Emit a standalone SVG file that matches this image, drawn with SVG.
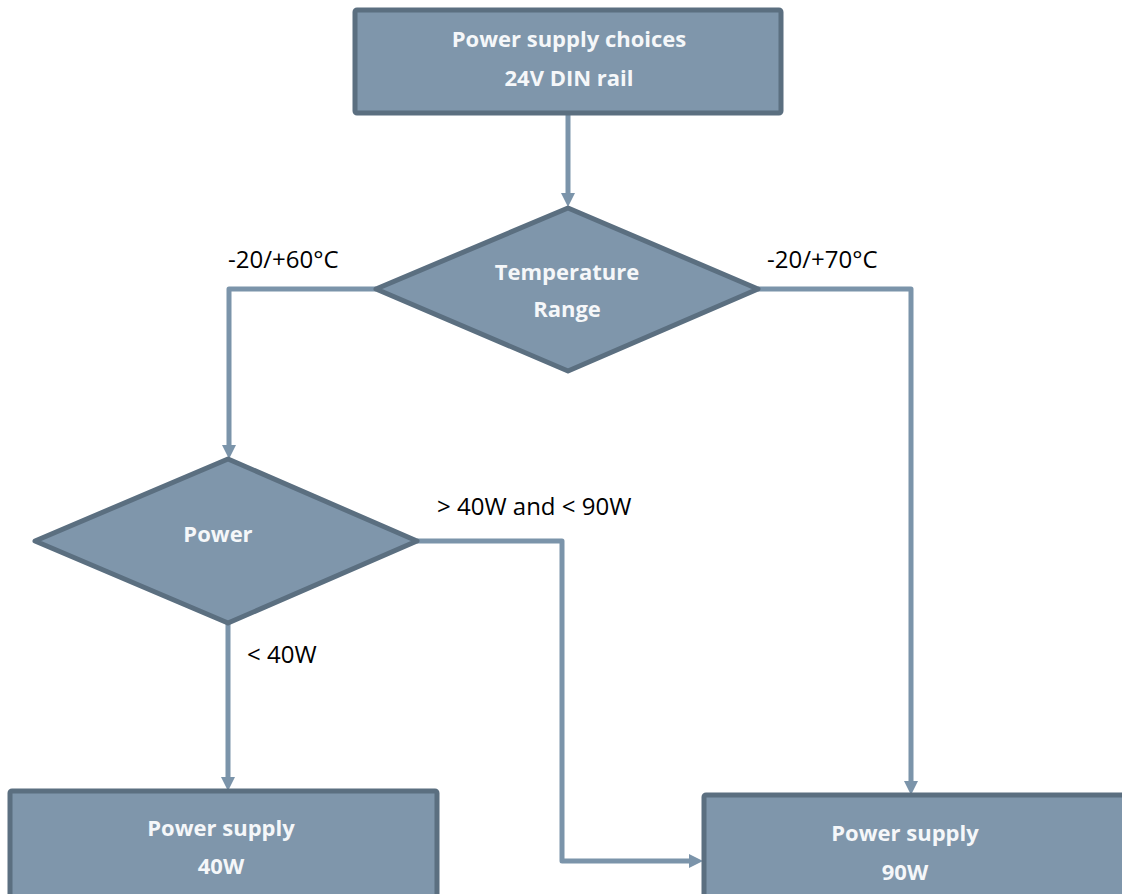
<svg xmlns="http://www.w3.org/2000/svg" width="1122" height="894" viewBox="0 0 1122 894">
  <style>
    .box { fill: #7f96ab; stroke: #5b6f80; stroke-width: 5; stroke-linejoin: round; }
    .ntext { font-family: "Open Sans", "Liberation Sans", sans-serif; font-weight: bold; font-size: 22px; fill: #f5f7f9; text-anchor: middle; }
    .conn { fill: none; stroke: #7b94aa; stroke-width: 5; stroke-linejoin: round; }
    .lbl { font-family: "Open Sans", "Liberation Sans", sans-serif; font-size: 24px; fill: #000000; }
  </style>
  <defs>
    <marker id="arrow" viewBox="0 0 14 14" refX="0" refY="7" markerWidth="14" markerHeight="14" markerUnits="userSpaceOnUse" orient="auto">
      <path d="M0,0 L14,7 L0,14 z" fill="#7b94aa"/>
    </marker>
  </defs>
  <rect width="1122" height="894" fill="#ffffff"/>
  <g id="connectors">
    <path class="conn" d="M568,115 V193" marker-end="url(#arrow)"/>
    <path class="conn" d="M376,289 H229 V445" marker-end="url(#arrow)"/>
    <path class="conn" d="M758,289 H911 V781" marker-end="url(#arrow)"/>
    <path class="conn" d="M417,541 H562 V861 H689" marker-end="url(#arrow)"/>
    <path class="conn" d="M228,623 V777" marker-end="url(#arrow)"/>
  </g>
  <g id="node-start">
    <rect class="box" x="355" y="10" width="426" height="103" rx="2"/>
    <text class="ntext" x="569" y="47">Power supply choices</text>
    <text class="ntext" x="569" y="86">24V DIN rail</text>
  </g>
  <g id="node-temperature">
    <polygon class="box" points="568,208 758,289 568,371 376,289"/>
    <text class="ntext" x="567" y="280">Temperature</text>
    <text class="ntext" x="567" y="317">Range</text>
  </g>
  <g id="node-power">
    <polygon class="box" points="228,459 417,541 228,623 35,541"/>
    <text class="ntext" x="218" y="542">Power</text>
  </g>
  <g id="node-ps40">
    <rect class="box" x="10" y="791" width="427" height="130" rx="2"/>
    <text class="ntext" x="221" y="836">Power supply</text>
    <text class="ntext" x="221" y="874">40W</text>
  </g>
  <g id="node-ps90">
    <rect class="box" x="704" y="795" width="440" height="130" rx="2"/>
    <text class="ntext" x="905" y="841">Power supply</text>
    <text class="ntext" x="905" y="880">90W</text>
  </g>
  <g id="labels">
    <text class="lbl" x="228" y="268">-20/+60°C</text>
    <text class="lbl" x="767" y="268">-20/+70°C</text>
    <text class="lbl" x="437" y="515">&gt; 40W and &lt; 90W</text>
    <text class="lbl" x="247" y="663">&lt; 40W</text>
  </g>
</svg>
